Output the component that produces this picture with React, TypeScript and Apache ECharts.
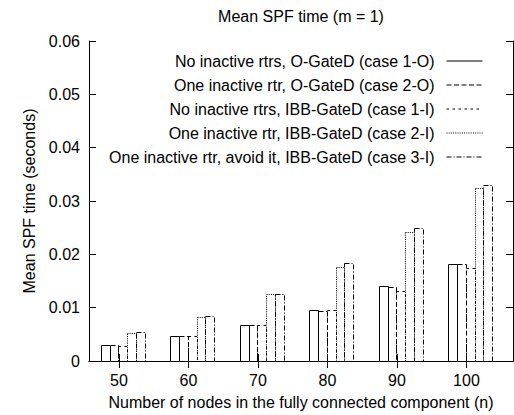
import React, { useEffect, useRef } from "react";
import * as echarts from "echarts";

const categories = [50, 60, 70, 80, 90, 100];
const seriesNames = [
  "No inactive rtrs, O-GateD (case 1-O)",
  "One inactive rtr, O-GateD (case 2-O)",
  "No inactive rtrs, IBB-GateD (case 1-I)",
  "One inactive rtr, IBB-GateD (case 2-I)",
  "One inactive rtr, avoid it, IBB-GateD (case 3-I)",
];
const case1O = [0.003, 0.0047, 0.0068, 0.0095, 0.0141, 0.0182];
const case2O = [0.003, 0.0046, 0.0068, 0.0094, 0.0139, 0.0182];
const case1I = [0.0029, 0.0046, 0.0067, 0.0095, 0.0132, 0.0175];
const case2I = [0.0053, 0.0082, 0.0125, 0.0176, 0.0242, 0.0325];
const case3I = [0.0055, 0.0084, 0.0126, 0.0184, 0.0249, 0.033];
const allSeries = [case1O, case2O, case1I, case2I, case3I];

const DASHES: (number[] | undefined)[] = [undefined, [5, 2.5], [2.5, 3.5], [1, 1.2], [5, 2, 1, 2]];
const FONT = "Liberation Sans";
const FS = 16;
const BAR_W = 1.26;
const GROUP_OFFSET = -2.6;

export default function App() {
  const ref = useRef<HTMLDivElement>(null);
  useEffect(() => {
    if (!ref.current) return;
    const chart = echarts.init(ref.current, undefined, { renderer: "svg" });
    const txt = { color: "#000", fontFamily: FONT, fontSize: FS };
    const lineSeries = seriesNames.map((name, i) => ({
      type: "line",
      name,
      data: [],
      symbol: "none",
      lineStyle: { color: "#000", width: 1, type: DASHES[i] ?? "solid" },
    }));
    const barSeries = seriesNames.map((name, i) => ({
      type: "custom",
      name,
      data: categories.map((c, j) => [c, allSeries[i][j]]),
      encode: { x: 0, y: 1 },
      renderItem: (params: any, api: any) => {
        const xv = api.value(0);
        const yv = api.value(1);
        const x0v = xv + GROUP_OFFSET + i * BAR_W;
        const p0 = api.coord([x0v, 0]);
        const p1 = api.coord([x0v + BAR_W, yv]);
        const xa = Math.round(p0[0]) + 0.5;
        const xb = Math.round(p1[0]) + 0.5;
        const ya = Math.round(p0[1]) + 0.5;
        const yb = Math.round(p1[1]) + 0.5;
        return {
          type: "rect",
          shape: { x: xa, y: yb, width: xb - xa, height: ya - yb },
          style: { fill: "none", stroke: "#000", lineWidth: 1, lineDash: DASHES[i] },
        };
      },
    }));
    chart.setOption({
      animation: false,
      backgroundColor: "#fff",
      title: {
        text: "Mean SPF time (m = 1)",
        left: 301,
        textAlign: "center",
        top: 8,
        padding: 0,
        textStyle: { ...txt, fontWeight: "normal" },
      },
      legend: {
        data: seriesNames,
        orient: "vertical",
        align: "right",
        right: 31,
        top: 53,
        padding: 0,
        itemWidth: 36,
        itemHeight: 14,
        itemGap: 8,
        itemStyle: { opacity: 0 },
        lineStyle: { width: 1 },
        textStyle: { ...txt, lineHeight: 14, padding: [0, 7, 0, 0] },
      },
      grid: { left: 89, right: 1, top: 41, bottom: 51.5, containLabel: false },
      xAxis: [
        {
          type: "value",
          min: 45.7,
          max: 106.7,
          position: "bottom",
          name: "Number of nodes in the fully connected component (n)",
          nameLocation: "middle",
          nameGap: 33,
          nameTextStyle: txt,
          axisLine: { show: true, lineStyle: { color: "#000", width: 1 } },
          axisTick: { show: true, inside: true, length: 7, customValues: categories, lineStyle: { color: "#000" } },
          axisLabel: { ...txt, margin: 11, customValues: categories },
          splitLine: { show: false },
        },
        {
          type: "value",
          min: 45.7,
          max: 106.7,
          position: "top",
          axisLine: { show: true, lineStyle: { color: "#000", width: 1 } },
          axisTick: { show: true, inside: true, length: 7, customValues: categories, lineStyle: { color: "#000" } },
          axisLabel: { show: false },
          splitLine: { show: false },
        },
      ],
      yAxis: [
        {
          type: "value",
          min: 0,
          max: 0.06,
          interval: 0.01,
          position: "left",
          name: "Mean SPF time (seconds)",
          nameLocation: "middle",
          nameGap: 52,
          nameTextStyle: txt,
          axisLine: { show: true, lineStyle: { color: "#000", width: 1 } },
          axisTick: { show: true, inside: true, length: 7, lineStyle: { color: "#000" } },
          axisLabel: { ...txt, margin: 9 },
          splitLine: { show: false },
        },
        {
          type: "value",
          min: 0,
          max: 0.06,
          interval: 0.01,
          position: "right",
          axisLine: { show: true, lineStyle: { color: "#000", width: 1 } },
          axisTick: { show: true, inside: true, length: 7, lineStyle: { color: "#000" } },
          axisLabel: { show: false },
          splitLine: { show: false },
        },
      ],
      series: [...lineSeries, ...barSeries],
    });
    return () => chart.dispose();
  }, []);
  return <div ref={ref} style={{ width: 514, height: 415, position: "absolute", left: 0, top: 0 }} />;
}
